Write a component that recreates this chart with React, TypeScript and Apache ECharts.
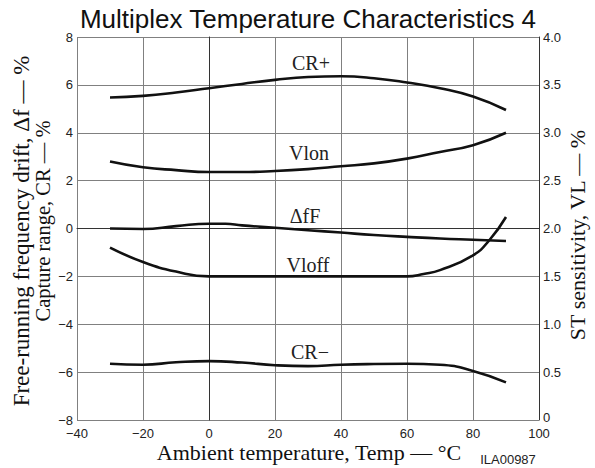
import React, { useEffect, useRef } from "react";
import * as echarts from "echarts";

const temps = [-30, -20, -10, 0, 10, 20, 30, 40, 50, 60, 70, 80, 90];
const crPlus = [5.47, 5.54, 5.68, 5.86, 6.04, 6.21, 6.33, 6.36, 6.28, 6.1, 5.86, 5.51, 4.95];
const crMinus = [-5.65, -5.69, -5.59, -5.54, -5.6, -5.71, -5.75, -5.69, -5.66, -5.65, -5.69, -5.95, -6.43];
const dfTemps = [-30, -20, -10, 0, 5, 10, 20, 30, 40, 50, 60, 70, 80, 90];
const deltaF = [0, -0.02, 0.1, 0.2, 0.2, 0.13, 0.03, -0.07, -0.17, -0.27, -0.35, -0.42, -0.47, -0.52];
const vlon = [2.7, 2.64, 2.61, 2.59, 2.59, 2.6, 2.62, 2.65, 2.68, 2.73, 2.8, 2.87, 3.0];
const vloffTemps = [-30, -20, -10, 0, 10, 20, 30, 40, 50, 60, 65, 70, 80, 85, 90];
const vloff = [1.8, 1.65, 1.55, 1.5, 1.5, 1.5, 1.5, 1.5, 1.5, 1.5, 1.525, 1.565, 1.72, 1.88, 2.12];

const xTicks = { min: -40, max: 100, interval: 20 };
const yLeft = { min: -8, max: 8, interval: 2 };
const yRight = { min: 0, max: 4, interval: 0.5 };

const curveLabels = [
  { text: "CR+", x: 311, y: 63 },
  { text: "Vlon", x: 309, y: 153 },
  { text: "ΔfF", x: 305, y: 216 },
  { text: "Vloff", x: 308, y: 265 },
  { text: "CR−", x: 310, y: 352 },
];

const SANS = "'Liberation Sans', Arial, sans-serif";
const SERIF = "'Liberation Serif', 'Times New Roman', serif";

const pairs = (xs: number[], ys: number[]) => xs.map((x, i) => [x, ys[i]]);
const minus = (s: string) => s.replace("-", "\u2212");

export default function App() {
  const ref = useRef<HTMLDivElement>(null);
  useEffect(() => {
    if (!ref.current) return;
    const chart = echarts.init(ref.current, null, { renderer: "svg" });
    const lineStyle = { color: "#111", width: 2.6 };
    const mkSeries = (name: string, data: number[][], yAxisIndex: number) => ({
      name,
      type: "line",
      data,
      yAxisIndex,
      smooth: 0.5,
      showSymbol: false,
      symbol: "none",
      lineStyle,
      silent: true,
    });
    chart.setOption({
      animation: false,
      grid: { left: 77, right: 56, top: 37, bottom: 48, containLabel: false },
      xAxis: {
        type: "value",
        ...xTicks,
        axisLine: { show: true, lineStyle: { color: "#333", width: 1 } },
        axisTick: { show: false },
        splitLine: { show: true, lineStyle: { color: "#808080", width: 1 } },
        axisLabel: {
          color: "#222",
          fontFamily: SANS,
          fontSize: 13,
          lineHeight: 12,
          margin: 7,
          formatter: (v: number) => minus(String(v)),
        },
      },
      yAxis: [
        {
          type: "value",
          ...yLeft,
          axisLine: { show: true, lineStyle: { color: "#333", width: 1 } },
          axisTick: { show: false },
          splitLine: { show: true, lineStyle: { color: "#808080", width: 1 } },
          axisLabel: {
            color: "#222",
            fontFamily: SANS,
            fontSize: 13,
            lineHeight: 10,
            margin: 4,
            formatter: (v: number) => minus(String(v)),
          },
        },
        {
          type: "value",
          ...yRight,
          position: "right",
          axisLine: { show: true, lineStyle: { color: "#333", width: 1 } },
          axisTick: { show: false },
          splitLine: { show: false },
          axisLabel: {
            color: "#222",
            fontFamily: SANS,
            fontSize: 13,
            lineHeight: 10,
            margin: 4,
            formatter: (v: number) => (v === 0 ? "{z|0}" : v.toFixed(1)),
            rich: {
              z: {
                color: "#222",
                fontFamily: SANS,
                fontSize: 13,
                lineHeight: 10,
                padding: [0, 0, 6, 0],
              },
            },
          },
        },
      ],
      series: [
        mkSeries("CR+", pairs(temps, crPlus), 0),
        mkSeries("Vlon", pairs(temps, vlon), 1),
        mkSeries("ΔfF", pairs(dfTemps, deltaF), 0),
        mkSeries("Vloff", pairs(vloffTemps, vloff), 1),
        mkSeries("CR−", pairs(temps, crMinus), 0),
      ],
      graphic: [
        {
          type: "text",
          x: 308,
          y: 19,
          style: {
            text: "Multiplex Temperature Characteristics 4",
            font: `26px ${SANS}`,
            fill: "#111",
            textAlign: "center",
            textVerticalAlign: "middle",
          },
        },
        ...curveLabels.map((l) => ({
          type: "text",
          x: l.x,
          y: l.y,
          style: {
            text: l.text,
            font: `20px ${SERIF}`,
            fill: "#222",
            textAlign: "center",
            textVerticalAlign: "middle",
          },
        })),
        {
          type: "text",
          x: 309,
          y: 452,
          style: {
            text: "Ambient temperature, Temp — °C",
            font: `22px ${SERIF}`,
            fill: "#111",
            textAlign: "center",
            textVerticalAlign: "middle",
          },
        },
        {
          type: "text",
          x: 508,
          y: 459,
          style: {
            text: "ILA00987",
            font: `13px ${SANS}`,
            fill: "#222",
            textAlign: "center",
            textVerticalAlign: "middle",
          },
        },
        {
          type: "text",
          x: 21,
          y: 231,
          rotation: Math.PI / 2,
          style: {
            text: "Free-running frequency drift, Δf — %",
            font: `23px ${SERIF}`,
            fill: "#111",
            textAlign: "center",
            textVerticalAlign: "middle",
          },
        },
        {
          type: "text",
          x: 43,
          y: 221,
          rotation: Math.PI / 2,
          style: {
            text: "Capture range, CR — %",
            font: `20.5px ${SERIF}`,
            fill: "#111",
            textAlign: "center",
            textVerticalAlign: "middle",
          },
        },
        {
          type: "text",
          x: 577,
          y: 235,
          rotation: Math.PI / 2,
          style: {
            text: "ST sensitivity, VL — %",
            font: `22px ${SERIF}`,
            fill: "#111",
            textAlign: "center",
            textVerticalAlign: "middle",
          },
        },
      ],
    });
    return () => chart.dispose();
  }, []);
  return <div ref={ref} style={{ width: 595, height: 468, position: "absolute", left: 0, top: 0 }} />;
}
